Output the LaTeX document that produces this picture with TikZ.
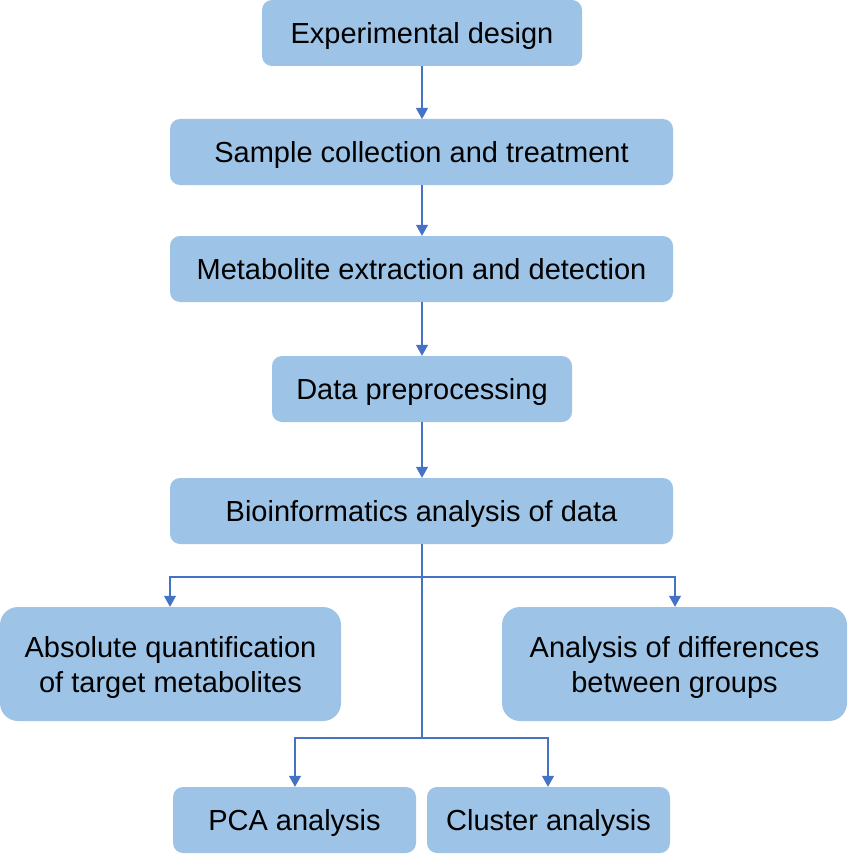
\documentclass[tikz,border=0pt]{standalone}
\usepackage{fontspec}
\setmainfont{Liberation Sans}
\usetikzlibrary{arrows.meta}
\definecolor{boxfill}{HTML}{9DC3E6}
\definecolor{lineblue}{HTML}{4472C4}
\begin{document}
\begin{tikzpicture}[x=1pt,y=-1pt,
  box/.style={fill=boxfill, rounded corners=10pt, inner sep=0pt, font=\fontsize{29}{35}\selectfont, align=center, text height=21pt, text depth=0pt},
  bigbox/.style={box, rounded corners=18pt, minimum height=114pt, text height=56pt, text depth=0pt},
  conn/.style={draw=lineblue, line width=1.1pt, -{Triangle[width=12pt,length=11pt]}},
  plain/.style={draw=lineblue, line width=1.1pt}]
\useasboundingbox (0,0) rectangle (847,856);
\node[box, minimum width=320pt, minimum height=66pt] (b1) at (422,33) {Experimental design};
\node[box, minimum width=503pt, minimum height=66pt] (b2) at (421.5,152) {Sample collection and treatment};
\node[box, minimum width=503pt, minimum height=66pt] (b3) at (421.5,269) {Metabolite extraction and detection};
\node[box, minimum width=300pt, minimum height=66pt] (b4) at (422,389) {Data preprocessing};
\node[box, minimum width=503pt, minimum height=66pt] (b5) at (421.5,511) {Bioinformatics analysis of data};
\node[bigbox, minimum width=341pt] (b6) at (170.5,664) {Absolute quantification\\of target metabolites};
\node[bigbox, minimum width=345pt] (b7) at (674.5,664) {Analysis of differences\\between groups};
\node[box, minimum width=243pt, minimum height=66pt] (b8) at (294.5,820) {PCA analysis};
\node[box, minimum width=243pt, minimum height=66pt] (b9) at (548.5,820) {Cluster analysis};
\coordinate (s5) at (422,544);
\coordinate (j1) at (422,577);
\coordinate (j2) at (422,738);
\draw[conn] (422,66) -- (422,119);
\draw[conn] (b2.south -| 422,0) -- (b3.north -| 422,0);
\draw[conn] (b3.south -| 422,0) -- (b4.north -| 422,0);
\draw[conn] (b4.south -| 422,0) -- (b5.north -| 422,0);
\draw[plain] (s5) -- (j2);
\draw[conn] (j1) -| (b6.north -| 170,0);
\draw[conn] (j1) -| (b7.north -| 675,0);
\draw[conn] (j2) -| (b8.north -| 295,0);
\draw[conn] (j2) -| (b9.north -| 548,0);
\end{tikzpicture}
\end{document}
